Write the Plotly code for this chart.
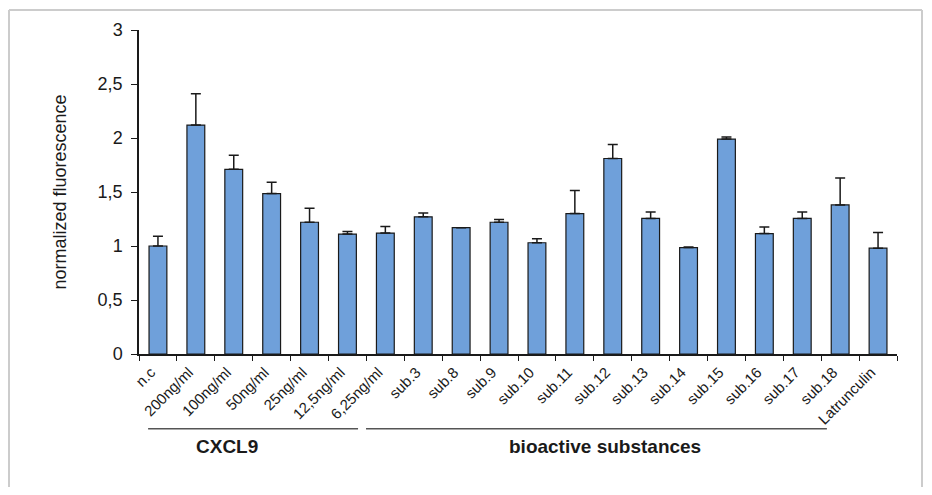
import plotly.graph_objects as go

categories = ["n.c", "200ng/ml", "100ng/ml", "50ng/ml", "25ng/ml", "12,5ng/ml", "6,25ng/ml",
              "sub.3", "sub.8", "sub.9", "sub.10", "sub.11", "sub.12", "sub.13", "sub.14",
              "sub.15", "sub.16", "sub.17", "sub.18", "Latrunculin"]
values = [1.00, 2.12, 1.71, 1.485, 1.22, 1.11, 1.12, 1.27, 1.17, 1.22, 1.03, 1.30, 1.81, 1.255,
          0.985, 1.99, 1.115, 1.255, 1.38, 0.98]
errors = [0.09, 0.29, 0.13, 0.105, 0.13, 0.025, 0.06, 0.035, 0.0, 0.025, 0.037, 0.215, 0.13, 0.06,
          0.005, 0.02, 0.06, 0.06, 0.25, 0.145]

ytick_vals = [0, 0.5, 1, 1.5, 2, 2.5, 3]
ytick_text = ["0", "0,5", "1", "1,5", "2", "2,5", "3"]

group_names = ["CXCL9", "bioactive substances"]
group_line_start = [-0.26, 5.49]
group_line_end = [5.28, 17.65]
group_label_x = [1.82, 11.8]

fig = go.Figure()
fig.add_trace(go.Bar(
    x=categories, y=values, width=0.47,
    marker=dict(color="#6fa0da", line=dict(color="#1a1a1a", width=1.2)),
    error_y=dict(type="data", symmetric=False, array=errors, arrayminus=[0] * len(errors),
                 color="#1a1a1a", thickness=1.5, width=5),
    showlegend=False,
))

shapes = []
annotations = []
for name, s, e, lx in zip(group_names, group_line_start, group_line_end, group_label_x):
    shapes.append(dict(type="line", xref="x", yref="paper", x0=s, x1=e, y0=-0.231, y1=-0.231,
                       line=dict(color="#555555", width=1.5)))
    annotations.append(dict(text="<b>%s</b>" % name, xref="x", yref="paper", x=lx, y=-0.287,
                            showarrow=False, xanchor="center", yanchor="middle",
                            font=dict(family="Liberation Sans, Arial", size=19, color="#1a1a1a")))

# outer frame (left, top, right edges; bottom runs off the page)
frame = dict(color="#cccccc", width=2)
fx0, fx1, fy_top, fy_bot = -0.1715, 1.033, 1.062, -0.7
shapes.append(dict(type="line", xref="paper", yref="paper", x0=fx0, x1=fx0, y0=fy_bot, y1=fy_top, line=frame, layer="below"))
shapes.append(dict(type="line", xref="paper", yref="paper", x0=fx1, x1=fx1, y0=fy_bot, y1=fy_top, line=frame, layer="below"))
shapes.append(dict(type="line", xref="paper", yref="paper", x0=fx0, x1=fx1, y0=fy_top, y1=fy_top, line=frame, layer="below"))

fig.update_layout(
    width=916, height=479,
    margin=dict(l=131, r=27, t=22, b=133),
    paper_bgcolor="white", plot_bgcolor="white",
    font=dict(family="Liberation Sans, Arial", color="#1a1a1a"),
    shapes=shapes, annotations=annotations,
    bargap=0.53,
)
fig.update_xaxes(
    type="category", tickson="boundaries", ticks="outside", ticklen=5, tickcolor="#1a1a1a",
    showline=True, linecolor="#1a1a1a", linewidth=1.5, tickangle=-45,
    tickfont=dict(size=15), showgrid=False, range=[-0.5, 19.5],
    ticklabelshift=-7, ticklabelstandoff=2,
)
fig.update_yaxes(
    range=[0, 3], tickvals=ytick_vals, ticktext=ytick_text, ticks="outside", ticklen=6,
    tickcolor="#1a1a1a", showline=True, linecolor="#1a1a1a", linewidth=1.5,
    tickfont=dict(size=18), showgrid=False, zeroline=False, ticklabelstandoff=5,
    title=dict(text="normalized fluorescence", font=dict(size=18), standoff=26),
)

fig.write_html("out.html")
